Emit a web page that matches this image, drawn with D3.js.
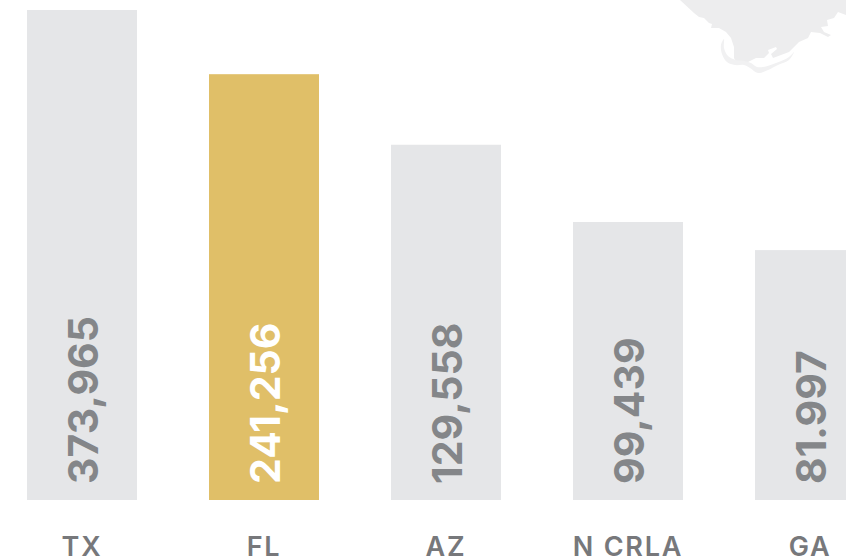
<!DOCTYPE html>
<html>
<head>
<meta charset="utf-8">
<script src="https://cdnjs.cloudflare.com/ajax/libs/d3/7.8.5/d3.min.js"></script>
<style>
  html, body { margin: 0; padding: 0; background: #fff; overflow: hidden; }
  text { font-family: Inter, "Noto Sans", sans-serif; }
</style>
</head>
<body>
<div id="chart"></div>
<script>
const width = 846;
const height = 560;

const states = ['TX', 'FL', 'AZ', 'N CRLA', 'GA'];
const values = [373965, 241256, 129558, 99439, 81997];
const valueLabels = ['373,965', '241,256', '129,558', '99,439', '81.997'];
const highlighted = ['FL'];

// bars in the picture are not proportional to the numbers, these are the drawn shares
const barShares = [1, 0.869, 0.725, 0.5673, 0.51];

// map in the corner: mainland, barrier strip and the lagoon inside it
const coast = [[680,0],[694,13],[699,17],[704,18],[709,23],[712,24],[711,28],[719,28],[726,32],[731,38],[734,47],[734,58],[736,62],[744,64],[750,61],[756,58],[764,58],[769,53],[768,50],[776,47],[777,49],[771,54],[773,58],[789,52],[799,42],[808,38],[811,32],[820,33],[828,37],[831,35],[824,32],[821,27],[828,26],[827,20],[834,18],[838,12],[846,15],[846,0]];
const strip = [[724,39],[721,45],[722,54],[727,62],[735,65],[744,65],[750,68],[758,73],[768,70],[778,65],[789,60],[794,52],[789,57],[776,63],[763,67],[757,67],[751,63],[744,61],[736,60],[728,56],[724,48]];

const svg = d3.select('#chart').append('svg')
  .attr('width', width)
  .attr('height', height);

const outline = d3.line().curve(d3.curveCatmullRomClosed.alpha(0.5));

svg.append('path')
  .attr('d', d3.line()(coast) + 'Z')
  .attr('fill', '#ededee');

svg.append('path')
  .attr('d', outline(strip))
  .attr('fill', '#f1f1f2');

const x = d3.scaleBand()
  .domain(states)
  .range([27, 865])
  .paddingInner(72 / 182)
  .paddingOuter(0);

const y = d3.scaleLinear()
  .domain([0, 1])
  .range([500, 10]);

const isHighlighted = d => highlighted.includes(d);

svg.selectAll('rect')
  .data(states)
  .join('rect')
  .attr('x', d => x(d))
  .attr('y', (d, i) => y(barShares[i]))
  .attr('width', x.bandwidth())
  .attr('height', (d, i) => y(0) - y(barShares[i]))
  .attr('fill', d => isHighlighted(d) ? '#e0bf68' : '#e5e6e8');

// rotated value inside each bar
svg.selectAll('.value')
  .data(states)
  .join('text')
  .attr('class', 'value')
  .attr('transform', d => `translate(${x(d) + x.bandwidth() / 2 + 16},484) rotate(-90)`)
  .attr('font-size', 41)
  .attr('font-weight', 700)
  .attr('fill', d => isHighlighted(d) ? '#ffffff' : '#848689')
  .text((d, i) => valueLabels[i]);

svg.selectAll('.state')
  .data(states)
  .join('text')
  .attr('class', 'state')
  .attr('x', d => x(d) + x.bandwidth() / 2)
  .attr('y', 556)
  .attr('text-anchor', 'middle')
  .attr('font-size', 27)
  .attr('font-weight', 600)
  .attr('letter-spacing', 1.8)
  .attr('fill', '#77787b')
  .text(d => d);
</script>
</body>
</html>
